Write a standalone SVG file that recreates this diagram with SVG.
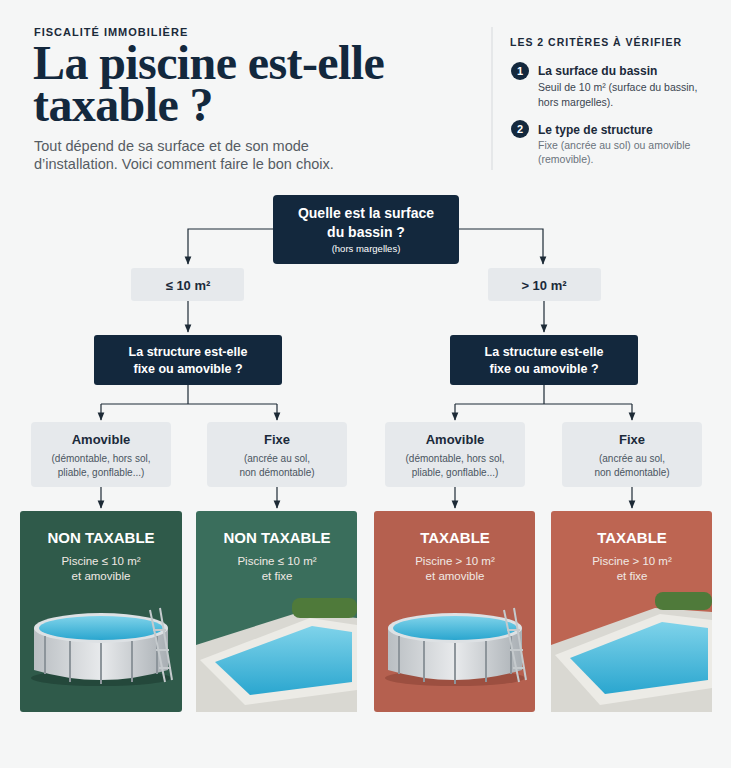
<svg xmlns="http://www.w3.org/2000/svg" width="731" height="768" viewBox="0 0 731 768">
<defs>
<marker id="ar" viewBox="0 0 10 10" refX="9" refY="5" markerWidth="7" markerHeight="7" orient="auto"><path d="M0,1 L10,5 L0,9 z" fill="#1d2a36"/></marker>
<linearGradient id="water" x1="0" y1="0" x2="0" y2="1"><stop offset="0" stop-color="#7fd3ea"/><stop offset="1" stop-color="#2aa6cf"/></linearGradient>
<linearGradient id="wall" x1="0" y1="0" x2="1" y2="0"><stop offset="0" stop-color="#b9bec2"/><stop offset="0.5" stop-color="#e8eaec"/><stop offset="1" stop-color="#a9afb4"/></linearGradient>
</defs>
<style>
text{font-family:"Liberation Sans","DejaVu Sans",sans-serif}
text.serif{font-family:"Liberation Serif","DejaVu Serif",serif}
.dark{fill:#13283d}
.wt{fill:#fff;text-anchor:middle}
.lab{fill:#e6e9ec}
.c{text-anchor:middle}
.ln{fill:none;stroke:#1d2a36;stroke-width:1.2}
.h{font-size:13px;font-weight:bold;fill:#1b2a3a}
.s{font-size:10px;fill:#4a5561}
.rt{font-size:15px;font-weight:bold;fill:#fff;text-anchor:middle}
.rs{font-size:11.5px;fill:#f1e9e4;text-anchor:middle}
</style>
<rect width="731" height="768" fill="#f5f6f6"/>
<g id="header">
<text x="34" y="36" font-size="11" font-weight="bold" letter-spacing="1" fill="#1b2a3a">FISCALITÉ IMMOBILIÈRE</text>
<text x="33" y="79" class="serif" font-size="48" font-weight="bold" fill="#13283d" letter-spacing="-0.6">La piscine est-elle</text>
<text x="33" y="121" class="serif" font-size="48" font-weight="bold" fill="#13283d" letter-spacing="-0.6">taxable ?</text>
<text x="34" y="151" font-size="14.5" fill="#555c63">Tout dépend de sa surface et de son mode</text>
<text x="34" y="169" font-size="14.5" fill="#555c63">d’installation. Voici comment faire le bon choix.</text>
<line x1="492" y1="27" x2="492" y2="170" stroke="#d6d9dc"/>
</g>
<g id="criteria">
<text x="510" y="46" font-size="10.5" font-weight="bold" letter-spacing="1" fill="#1b2a3a">LES 2 CRITÈRES À VÉRIFIER</text>
<circle cx="520" cy="71" r="9" fill="#13283d"/><text x="520" y="75" class="wt" font-size="11" font-weight="bold">1</text>
<text x="538" y="75" font-size="12" font-weight="bold" fill="#1b2a3a">La surface du bassin</text>
<text x="538" y="91" font-size="10.5" fill="#3a4550">Seuil de 10 m² (surface du bassin,</text>
<text x="538" y="106" font-size="10.5" fill="#3a4550">hors margelles).</text>
<circle cx="520" cy="129" r="9" fill="#13283d"/><text x="520" y="133" class="wt" font-size="11" font-weight="bold">2</text>
<text x="538" y="134" font-size="12" font-weight="bold" fill="#1b2a3a">Le type de structure</text>
<text x="538" y="149" font-size="10.5" fill="#6a737c">Fixe (ancrée au sol) ou amovible</text>
<text x="538" y="163" font-size="10.5" fill="#6a737c">(removible).</text>
</g>
<g id="connectors">
<path class="ln" d="M273,229 H188 V264" marker-end="url(#ar)"/>
<path class="ln" d="M459,229 H543 V264" marker-end="url(#ar)"/>
<path class="ln" d="M188,301 V332" marker-end="url(#ar)"/>
<path class="ln" d="M544,301 V332" marker-end="url(#ar)"/>
<path class="ln" d="M188,385 V404 M101,404 H277"/>
<path class="ln" d="M101,404 V420" marker-end="url(#ar)"/>
<path class="ln" d="M277,404 V420" marker-end="url(#ar)"/>
<path class="ln" d="M544,385 V404 M455,404 H632"/>
<path class="ln" d="M455,404 V420" marker-end="url(#ar)"/>
<path class="ln" d="M632,404 V420" marker-end="url(#ar)"/>
<path class="ln" d="M101,487 V508" marker-end="url(#ar)"/>
<path class="ln" d="M277,487 V508" marker-end="url(#ar)"/>
<path class="ln" d="M455,487 V508" marker-end="url(#ar)"/>
<path class="ln" d="M632,487 V508" marker-end="url(#ar)"/>
</g>
<g id="q-surface">
<rect x="273" y="195" width="186" height="69" rx="4" class="dark"/>
<text x="366" y="218" class="wt" font-size="14" font-weight="bold">Quelle est la surface</text>
<text x="366" y="237" class="wt" font-size="14" font-weight="bold">du bassin ?</text>
<text x="366" y="252" class="wt" font-size="9.5" fill="#c9d1d9">(hors margelles)</text>
</g>
<g id="le10"><rect x="131" y="268" width="113" height="33" rx="3" class="lab"/><text x="188" y="290" class="c" font-size="13" font-weight="bold" fill="#1b2a3a">≤ 10 m²</text></g>
<g id="gt10"><rect x="488" y="268" width="113" height="33" rx="3" class="lab"/><text x="544" y="290" class="c" font-size="13" font-weight="bold" fill="#1b2a3a">&gt; 10 m²</text></g>
<g id="q-struct-1"><rect x="94" y="335" width="188" height="50" rx="3" class="dark"/>
<text x="188" y="356" class="wt" font-size="12.5" font-weight="bold">La structure est-elle</text>
<text x="188" y="373" class="wt" font-size="12.5" font-weight="bold">fixe ou amovible ?</text></g>
<g id="q-struct-2"><rect x="450" y="335" width="188" height="50" rx="3" class="dark"/>
<text x="544" y="356" class="wt" font-size="12.5" font-weight="bold">La structure est-elle</text>
<text x="544" y="373" class="wt" font-size="12.5" font-weight="bold">fixe ou amovible ?</text></g>
<g id="opt-1"><rect x="31" y="422" width="140" height="65" rx="4" class="lab"/>
<text x="101" y="444" class="c h">Amovible</text><text x="101" y="462" class="c s">(démontable, hors sol,</text><text x="101" y="476" class="c s">pliable, gonflable...)</text></g>
<g id="opt-2"><rect x="207" y="422" width="140" height="65" rx="4" class="lab"/>
<text x="277" y="444" class="c h">Fixe</text><text x="277" y="462" class="c s">(ancrée au sol,</text><text x="277" y="476" class="c s">non démontable)</text></g>
<g id="opt-3"><rect x="385" y="422" width="140" height="65" rx="4" class="lab"/>
<text x="455" y="444" class="c h">Amovible</text><text x="455" y="462" class="c s">(démontable, hors sol,</text><text x="455" y="476" class="c s">pliable, gonflable...)</text></g>
<g id="opt-4"><rect x="562" y="422" width="140" height="65" rx="4" class="lab"/>
<text x="632" y="444" class="c h">Fixe</text><text x="632" y="462" class="c s">(ancrée au sol,</text><text x="632" y="476" class="c s">non démontable)</text></g>

<g id="res-1">
<rect x="20" y="511" width="162" height="201" rx="3" fill="#2f5a4a"/>
<text x="101" y="543" class="rt">NON TAXABLE</text><text x="101" y="565" class="rs">Piscine ≤ 10 m²</text><text x="101" y="580" class="rs">et amovible</text>
<ellipse cx="101" cy="678" rx="70" ry="8" fill="#24483b"/>
<path d="M34,628 V670 Q101,690 168,670 V628 Z" fill="url(#wall)"/>
<ellipse cx="101" cy="628" rx="67" ry="15" fill="#dde1e4"/>
<ellipse cx="101" cy="628" rx="62" ry="12" fill="url(#water)"/>
<g stroke="#8d959b" stroke-width="2"><line x1="45" y1="636" x2="45" y2="674"/><line x1="70" y1="641" x2="70" y2="682"/><line x1="101" y1="643" x2="101" y2="684"/><line x1="132" y1="641" x2="132" y2="682"/><line x1="157" y1="636" x2="157" y2="674"/></g>
<path d="M150,610 L165,682 M160,608 L172,680 M153,630 L166,630 M156,650 L169,650 M159,668 L171,668" stroke="#c5cacd" stroke-width="2" fill="none"/>
</g>
<g id="res-2">
<rect x="196" y="511" width="161" height="201" rx="3" fill="#3a6e5c"/>
<path d="M196,645 L300,612 L357,618 V712 H196 Z" fill="#d9d8d2"/>
<rect x="292" y="598" width="65" height="20" rx="8" fill="#4f7a3a"/>
<path d="M200,660 L310,618 L357,625 V690 L245,705 Z" fill="#ecebe6"/>
<path d="M215,662 L312,626 L352,632 V682 L250,695 Z" fill="url(#water)"/>
<text x="277" y="543" class="rt">NON TAXABLE</text><text x="277" y="565" class="rs">Piscine ≤ 10 m²</text><text x="277" y="580" class="rs">et fixe</text>
</g>
<g id="res-3">
<rect x="374" y="511" width="161" height="201" rx="3" fill="#b5604f"/>
<ellipse cx="455" cy="678" rx="70" ry="8" fill="#9c4f40"/>
<path d="M388,628 V670 Q455,690 522,670 V628 Z" fill="url(#wall)"/>
<ellipse cx="455" cy="628" rx="67" ry="15" fill="#dde1e4"/>
<ellipse cx="455" cy="628" rx="62" ry="12" fill="url(#water)"/>
<g stroke="#8d959b" stroke-width="2"><line x1="399" y1="636" x2="399" y2="674"/><line x1="424" y1="641" x2="424" y2="682"/><line x1="455" y1="643" x2="455" y2="684"/><line x1="486" y1="641" x2="486" y2="682"/><line x1="511" y1="636" x2="511" y2="674"/></g>
<path d="M504,610 L519,682 M514,608 L526,680 M507,630 L520,630 M510,650 L523,650 M513,668 L525,668" stroke="#c5cacd" stroke-width="2" fill="none"/>
<text x="455" y="543" class="rt">TAXABLE</text><text x="455" y="565" class="rs">Piscine &gt; 10 m²</text><text x="455" y="580" class="rs">et amovible</text>
</g>
<g id="res-4">
<rect x="551" y="511" width="161" height="201" rx="3" fill="#bd6552"/>
<path d="M551,645 L655,608 L712,612 V712 H551 Z" fill="#d9d8d2"/>
<rect x="655" y="592" width="57" height="18" rx="8" fill="#4f7a3a"/>
<path d="M555,655 L660,614 L712,620 V688 L600,705 Z" fill="#ecebe6"/>
<path d="M570,658 L662,622 L708,628 V680 L605,694 Z" fill="url(#water)"/>
<text x="632" y="543" class="rt">TAXABLE</text><text x="632" y="565" class="rs">Piscine &gt; 10 m²</text><text x="632" y="580" class="rs">et fixe</text>
</g>
</svg>
